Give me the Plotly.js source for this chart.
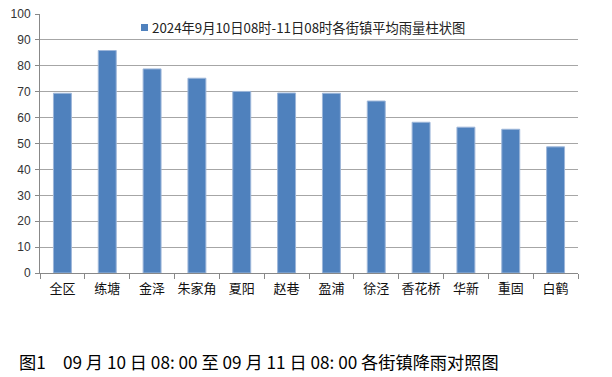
<!DOCTYPE html>
<html><head><meta charset="utf-8">
<script src="https://cdn.plot.ly/plotly-3.0.1.min.js"></script>
<style>html,body{margin:0;padding:0;background:#fff}#c{width:612px;height:377px}</style>
</head><body><div id="c"></div>
<script>
const categories = ["全区","练塘","金泽","朱家角","夏阳","赵巷","盈浦","徐泾","香花桥","华新","重固","白鹤"];
const rainfall = [69.4, 85.9, 78.8, 75.2, 70.1, 69.5, 69.4, 66.4, 58.2, 56.3, 55.5, 48.7];
const seriesName = "2024年9月10日08时-11日08时各街镇平均雨量柱状图";
const caption = "图1　09 月 10 日 08: 00 至 09 月 11 日 08: 00 各街镇降雨对照图";
const yTicks = [0,10,20,30,40,50,60,70,80,90,100];
const barColor = '#4F81BD';

const cjk = '"Noto Sans CJK SC", "Liberation Sans", sans-serif';
const W = 612, H = 377, mL = 40, mR = 34, mT = 14, mB = 104;
const pw = W - mL - mR, ph = H - mT - mB;
const px = v => (v - mL) / pw;          // pixel -> paper x
const py = v => (H - mB - v) / ph;      // pixel -> paper y

Plotly.newPlot('c', [{
  type: 'bar', x: categories, y: rainfall, name: seriesName,
  marker: {color: barColor, line: {color: '#9DB6D9', width: 1}},
  showlegend: false
}], {
  width: W, height: H,
  margin: {l: mL, r: mR, t: mT, b: mB},
  paper_bgcolor: '#fff', plot_bgcolor: '#fff',
  bargap: 0.6,
  showlegend: false,
  xaxis: {type: 'category', tickson: 'boundaries', ticks: 'outside', ticklen: 5, tickcolor: '#888',
    tickangle: 0, showline: true, linecolor: '#888', linewidth: 1, showgrid: false,
    ticklabelstandoff: 3,
    tickfont: {family: cjk, size: 13, color: '#111'}},
  yaxis: {range: [0, 100], tickvals: yTicks, ticks: 'outside', ticklen: 4, tickcolor: '#888',
    showline: true, linecolor: '#888', gridcolor: '#A6A6A6', gridwidth: 1, zeroline: false,
    ticklabelstandoff: 2,
    tickfont: {family: '"Liberation Sans", Arial, sans-serif', size: 12, color: '#333'}},
  shapes: [{type: 'rect', xref: 'paper', yref: 'paper', x0: px(141), x1: px(148), y0: py(31), y1: py(24),
    fillcolor: barColor, line: {width: 0}}],
  annotations: [
    {xref: 'paper', yref: 'paper', x: px(150), y: py(27.5), xanchor: 'left', yanchor: 'middle',
     text: seriesName, showarrow: false, font: {family: cjk, size: 13.3, color: '#222'}},
    {xref: 'paper', yref: 'paper', x: px(17), y: py(361), xanchor: 'left', yanchor: 'middle',
     text: caption, showarrow: false, font: {family: cjk, size: 17.2, color: '#000'}}]
}, {displayModeBar: false, staticPlot: true});
</script></body></html>
